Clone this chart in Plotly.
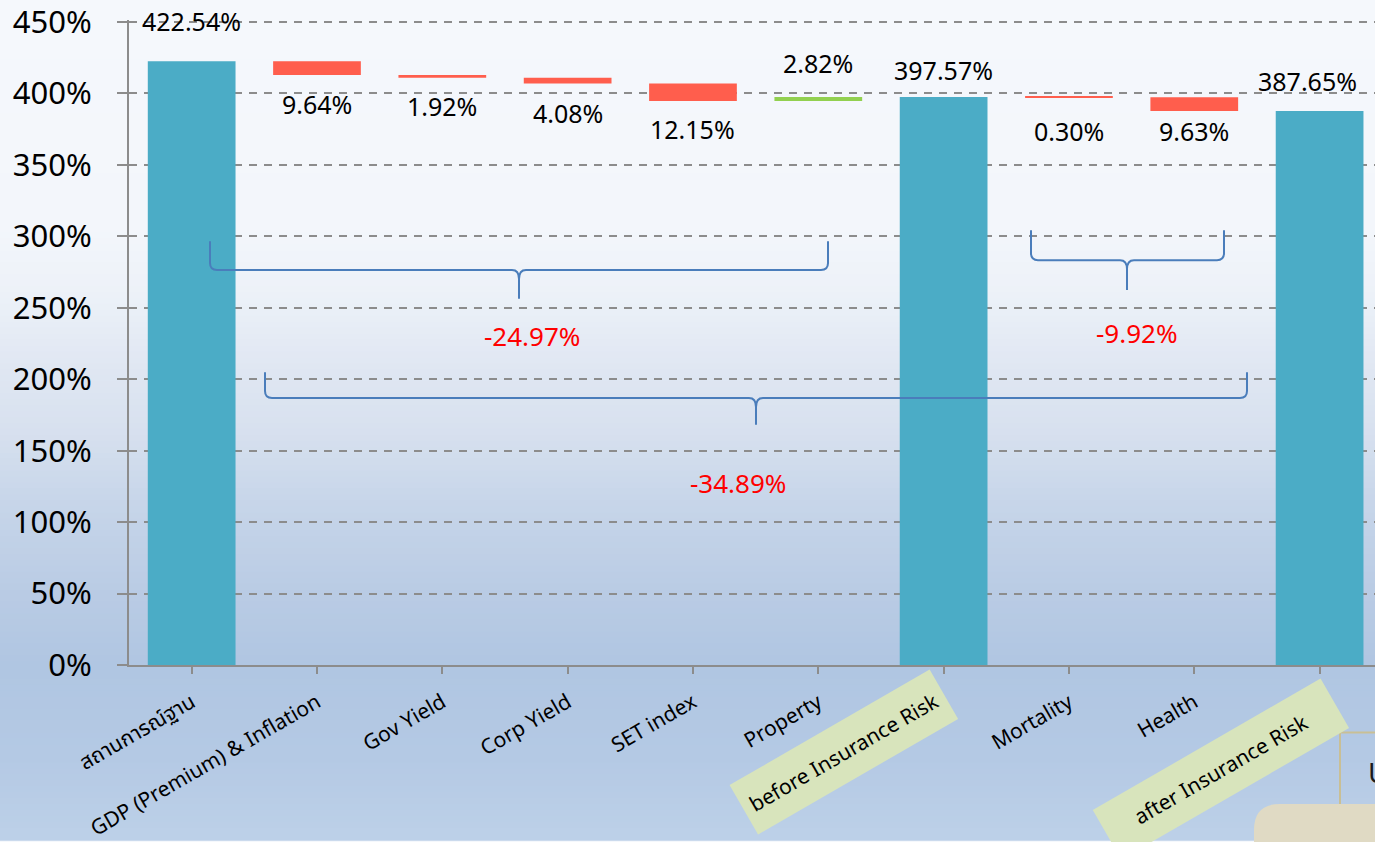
import plotly.graph_objects as go

# ---------------- data ----------------
categories = ["สถานการณ์ฐาน", "GDP (Premium) & Inflation", "Gov Yield", "Corp Yield",
              "SET index", "Property", "before Insurance Risk", "Mortality", "Health",
              "after Insurance Risk"]
measures = ["absolute", "relative", "relative", "relative", "relative", "relative",
            "total", "relative", "relative", "total"]
values = [422.54, -9.64, -1.92, -4.08, -12.15, 2.82, 0, -0.30, -9.63, 0]
bar_labels = ["422.54%", "9.64%", "1.92%", "4.08%", "12.15%", "2.82%",
              "397.57%", "0.30%", "9.63%", "387.65%"]
highlighted = ["before Insurance Risk", "after Insurance Risk"]
brace_labels = ["-24.97%", "-9.92%", "-34.89%"]
y_tickvals = [0, 50, 100, 150, 200, 250, 300, 350, 400, 450]
y_ticktext = [f"{v}%" for v in y_tickvals]

# ---------------- style ----------------
TEAL = "#4BACC6"
RED = "#FF5E4D"
GREEN = "#92D050"
GRID = "#8C8C8C"
BRACE = "#4A7DBB"
FONT = "Noto Sans, Noto Sans Thai, Tahoma, DejaVu Sans, sans-serif"

W_FIG, H_FIG = 1375, 842
L, T, B = 129, 20, 670
PW, PH = W_FIG - L, B - T
Y_MAX = 450 * PH / 648.0   # keep 1% = 1.44 px with 450% at y=22


def pp(x, y):
    return (x - L) / PW, (B - y) / PH


def path(cmds):
    out = []
    for c in cmds:
        if isinstance(c, str):
            out.append(c)
        else:
            x, y = pp(*c)
            out.append(f"{x:.5f},{y:.5f}")
    return " ".join(out)


fig = go.Figure()
fig.add_trace(go.Waterfall(
    x=categories, y=values, measure=measures,
    increasing=dict(marker=dict(color=GREEN)),
    decreasing=dict(marker=dict(color=RED)),
    totals=dict(marker=dict(color=TEAL)),
    connector=dict(visible=False),
    textposition="none",
    hoverinfo="x+y",
))

shapes = []
# background gradient (figure-wide)
stops = [(0, (0xF5, 0xF8, 0xFC)), (230, (0xF3, 0xF6, 0xFB)), (300, (0xEC, 0xF1, 0xF8)),
         (360, (0xE1, 0xE8, 0xF3)), (430, (0xD8, 0xE1, 0xEF)), (510, (0xC6, 0xD5, 0xE9)),
         (600, (0xB9, 0xCB, 0xE4)), (670, (0xB0, 0xC6, 0xE2)), (760, (0xB4, 0xC9, 0xE4)),
         (842, (0xBC, 0xD0, 0xE8))]


def col_at(py):
    for (y0, c0), (y1, c1) in zip(stops[:-1], stops[1:]):
        if y0 <= py <= y1:
            t = (py - y0) / (y1 - y0)
            return "rgb(%d,%d,%d)" % tuple(round(a + (b - a) * t) for a, b in zip(c0, c1))
    return "rgb(%d,%d,%d)" % stops[-1][1]


step = 6
for y in range(0, H_FIG, step):
    x0, y0 = pp(0, y)
    x1, y1 = pp(W_FIG, y + step + 1)
    shapes.append(dict(type="rect", xref="paper", yref="paper", x0=x0, x1=x1, y0=y1, y1=y0,
                       fillcolor=col_at(y + step / 2), line=dict(width=0), layer="below"))


# braces
def brace(xl, xr, ytop, yh, ytip, xt):
    r = 7
    return path(["M", (xl, ytop), "L", (xl, yh - r), "Q", (xl, yh), (xl + r, yh),
                 "L", (xt - r, yh), "Q", (xt, yh), (xt, yh + 9), "L", (xt, ytip),
                 "M", (xt, yh + 9), "Q", (xt, yh), (xt + r, yh),
                 "L", (xr - r, yh), "Q", (xr, yh), (xr, yh - r), "L", (xr, ytop)])


for args in [(210, 828, 243, 272, 301, 519), (1031, 1224, 232, 262, 292, 1127),
             (265, 1247, 375, 401, 428, 756)]:
    shapes.append(dict(type="path", xref="paper", yref="paper", path=brace(*args),
                       line=dict(color=BRACE, width=2), layer="above"))

# partial slide objects at bottom right
bx0, by0 = pp(1340, 738)
bx1, by1 = pp(1390, 816)
shapes.append(dict(type="rect", xref="paper", yref="paper", x0=bx0, x1=bx1, y0=by1, y1=by0,
                   line=dict(color="#C9BF95", width=2), fillcolor="rgba(0,0,0,0)", layer="below"))
shapes.append(dict(type="path", xref="paper", yref="paper",
                   path=path(["M", (1254, 860), "L", (1254, 836), "Q", (1254, 810), (1280, 810),
                              "L", (1390, 810), "L", (1390, 860), "Z"]),
                   fillcolor="#E0DAC4", line=dict(width=0), layer="below"))

annotations = []
# data labels
label_yshift = [40, -29, -28, -29, -28, 34, 27, -34, -20, 30]
label_xshift = [0, 0, 0, 0, 0, 0, 0, 0, 0, -12]
level = 0.0
for cat, m, v, lab, off, xs in zip(categories, measures, values, bar_labels,
                                   label_yshift, label_xshift):
    if m == "absolute":
        lo, hi = 0, v
        level = v
    elif m == "relative":
        lo, hi = min(level, level + v), max(level, level + v)
        level += v
    else:
        lo, hi = 0, level
    yv = hi if off > 0 else lo
    annotations.append(dict(x=cat, y=yv, xref="x", yref="y", text=lab, showarrow=False,
                            yshift=off, xshift=xs, yanchor="middle",
                            font=dict(family=FONT, size=25, color="#000000")))

# brace labels
for lab, (cx, cy) in zip(brace_labels, [(532, 338), (1137, 335), (738, 487)]):
    ax, ay = pp(cx, cy)
    annotations.append(dict(x=ax, y=ay, xref="paper", yref="paper", text=lab, showarrow=False,
                            xanchor="center", yanchor="middle",
                            font=dict(family=FONT, size=26, color="#FF0000")))

# highlighted category labels
for lab, (cx, cy, w) in zip(highlighted, [(844, 758, 230), (1221, 775, 262)]):
    ax, ay = pp(cx, cy)
    annotations.append(dict(x=ax, y=ay, xref="paper", yref="paper", text=lab, showarrow=False,
                            xanchor="center", yanchor="middle", textangle=-30,
                            width=w, height=56, borderpad=0, bgcolor="#D8E4BC",
                            font=dict(family=FONT, size=21, color="#000000")))

# cut-off glyph at right edge
gx, gy = pp(1366, 778)
annotations.append(dict(x=gx, y=gy, xref="paper", yref="paper", text="U", showarrow=False,
                        xanchor="left", yanchor="middle",
                        font=dict(family=FONT, size=28, color="#1A1A1A")))

ticktext = ["" if c in highlighted else c for c in categories]

fig.update_layout(
    width=W_FIG, height=H_FIG,
    margin=dict(l=L, r=0, t=T, b=H_FIG - B, pad=0),
    paper_bgcolor="#F5F8FC", plot_bgcolor="rgba(0,0,0,0)",
    showlegend=False, waterfallgap=0.3,
    shapes=shapes, annotations=annotations,
    font=dict(family=FONT, color="#000000"),
    xaxis=dict(type="category", range=[-0.5, 9.442], tickvals=categories, ticktext=ticktext,
               tickangle=-30, tickfont=dict(family=FONT, size=21, color="#000000"),
               showline=True, linecolor=GRID, linewidth=2, ticks="outside", ticklen=7,
               tickcolor=GRID, tickwidth=2, ticklabelstandoff=8, ticklabeloverflow="allow",
               showgrid=False, zeroline=False, fixedrange=True),
    yaxis=dict(range=[0, Y_MAX], tickvals=y_tickvals, ticktext=y_ticktext,
               tickfont=dict(family=FONT, size=31, color="#000000"),
               showline=True, linecolor=GRID, linewidth=2, ticks="outside", ticklen=10,
               tickcolor=GRID, tickwidth=2, ticklabelstandoff=19, ticklabeloverflow="allow",
               showgrid=True, gridcolor=GRID, gridwidth=2, griddash="8px,7px",
               zeroline=False, fixedrange=True),
)

fig.write_html("out.html", config={"displayModeBar": False},
               post_script="document.body.style.margin='0';document.body.style.overflow='hidden';")
